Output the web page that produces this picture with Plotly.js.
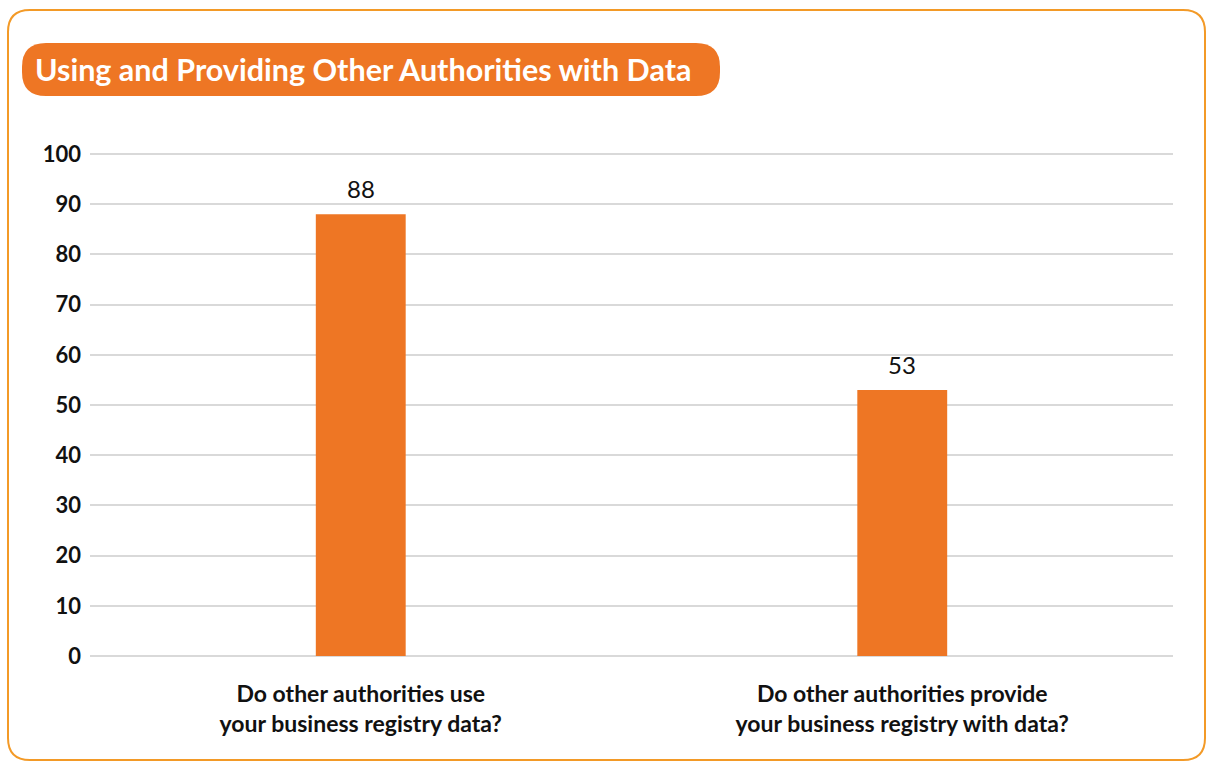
<!DOCTYPE html>
<html>
<head>
<meta charset="utf-8">
<script src="https://cdn.plot.ly/plotly-3.0.1.min.js"></script>
<style>
  html, body { margin: 0; padding: 0; background: #ffffff; }
  #chart { width: 1206px; height: 762px; }
</style>
</head>
<body>
<div id="chart"></div>
<script>
// Survey answers (% of registries answering yes)
const questions = [
  "Do other authorities use<br>your business registry data?",
  "Do other authorities provide<br>your business registry with data?"
];
const shares = [88, 53];
const yTicks = [0, 10, 20, 30, 40, 50, 60, 70, 80, 90, 100];

const W = 1206, H = 762;
const M = { l: 90, r: 33, t: 149, b: 106 };
const plotW = W - M.l - M.r, plotH = H - M.t - M.b;

// convert page pixels to paper coordinates for the decorative shapes
const px = x => (x - M.l) / plotW;
const py = y => (H - M.b - y) / plotH;

function roundedRect(x0, y0, x1, y1, r) {
  return [
    `M${px(x0 + r)},${py(y0)}`,
    `L${px(x1 - r)},${py(y0)}`,
    `Q${px(x1)},${py(y0)} ${px(x1)},${py(y0 + r)}`,
    `L${px(x1)},${py(y1 - r)}`,
    `Q${px(x1)},${py(y1)} ${px(x1 - r)},${py(y1)}`,
    `L${px(x0 + r)},${py(y1)}`,
    `Q${px(x0)},${py(y1)} ${px(x0)},${py(y1 - r)}`,
    `L${px(x0)},${py(y0 + r)}`,
    `Q${px(x0)},${py(y0)} ${px(x0 + r)},${py(y0)}`,
    "Z"
  ].join(" ");
}

const ORANGE = "#EE7624";
const FRAME = "#F39A27";
const FONT = "Lato, 'Open Sans', sans-serif";

const trace = {
  type: "bar",
  x: questions,
  y: shares,
  marker: { color: ORANGE },
  hoverinfo: "skip"
};

// value labels sit a little above each bar
const valueLabels = questions.map((q, i) => ({
  x: q, y: shares[i], xref: "x", yref: "y",
  text: String(shares[i]),
  showarrow: false,
  yanchor: "bottom",
  yshift: 9,
  font: { family: FONT, size: 24, color: "#111111" }
}));

const layout = {
  width: W,
  height: H,
  margin: M,
  paper_bgcolor: "#ffffff",
  plot_bgcolor: "#ffffff",
  showlegend: false,
  bargap: 0.834,
  title: {
    text: "<b>Using and Providing Other Authorities with Data</b>",
    font: { family: FONT, size: 30.5, color: "#ffffff" },
    xref: "container", yref: "container",
    x: 35 / W, xanchor: "left",
    y: 1 - 70 / H, yanchor: "middle"
  },
  xaxis: {
    type: "category",
    showgrid: false,
    showline: false,
    ticks: "",
    ticklabelstandoff: 22,
    tickfont: { family: FONT, size: 23, color: "#111111", weight: "bold" }
  },
  yaxis: {
    range: [0, 101],
    tickvals: yTicks,
    ticktext: yTicks.map(String),
    showgrid: true,
    gridcolor: "#D9D9D9",
    gridwidth: 2,
    zeroline: true,
    zerolinecolor: "#D9D9D9",
    zerolinewidth: 2,
    showline: false,
    ticks: "",
    ticklabelstandoff: 8,
    tickfont: { family: FONT, size: 22, color: "#111111", weight: "bold" }
  },
  annotations: valueLabels,
  shapes: [
    {
      type: "path", xref: "paper", yref: "paper", layer: "below",
      path: roundedRect(8, 10, 1205, 760, 22),
      line: { color: FRAME, width: 2 },
      fillcolor: "rgba(0,0,0,0)"
    },
    {
      type: "path", xref: "paper", yref: "paper", layer: "below",
      path: roundedRect(22, 43, 720, 96, 24),
      line: { width: 0 },
      fillcolor: ORANGE
    }
  ]
};

Plotly.newPlot("chart", [trace], layout, { staticPlot: true, displayModeBar: false });
</script>
</body>
</html>
